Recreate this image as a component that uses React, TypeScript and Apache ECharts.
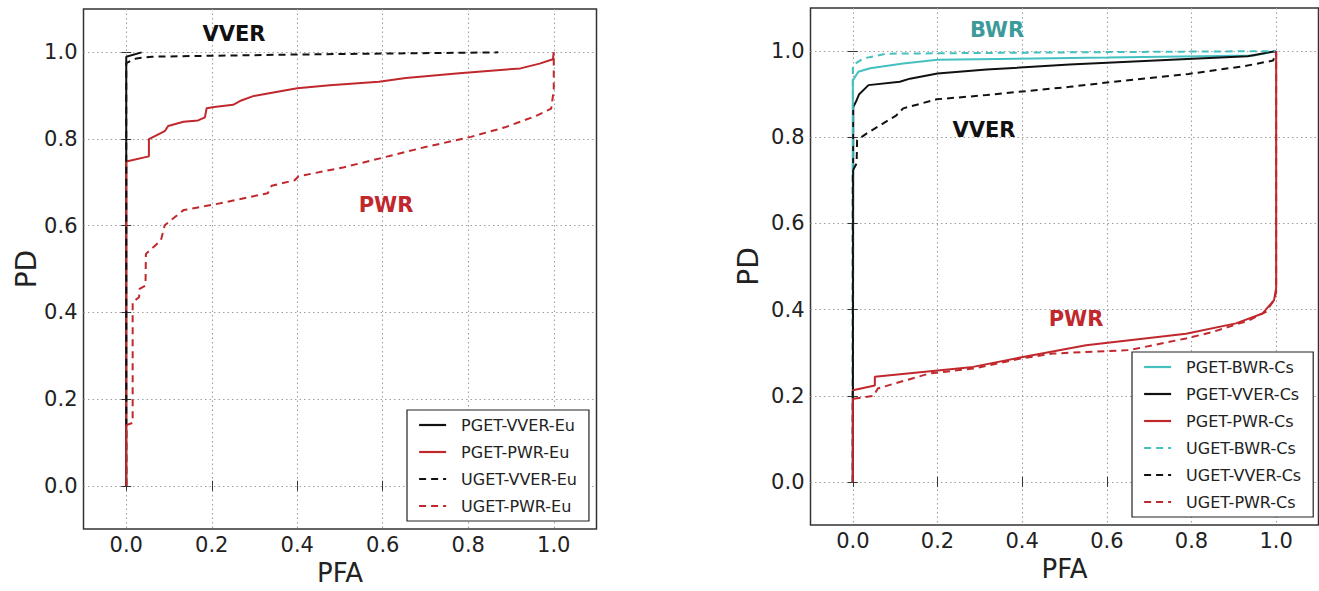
import React, { useEffect, useRef } from 'react';
import * as echarts from 'echarts';

// ---------- data ----------
const tickValues = [0, 0.2, 0.4, 0.6, 0.8, 1.0];

const leftNames = ['PGET-VVER-Eu', 'PGET-PWR-Eu', 'UGET-VVER-Eu', 'UGET-PWR-Eu'];
const rightNames = ['PGET-BWR-Cs', 'PGET-VVER-Cs', 'PGET-PWR-Cs', 'UGET-BWR-Cs', 'UGET-VVER-Cs', 'UGET-PWR-Cs'];

const pgetVverEu = [[0, 0], [0, 0.99], [0.036, 1.0]];
const pgetPwrEu = [
  [0, 0], [0, 0.748], [0.053, 0.76], [0.053, 0.8], [0.09, 0.818], [0.098, 0.83], [0.134, 0.84],
  [0.168, 0.843], [0.184, 0.85], [0.188, 0.871], [0.206, 0.874], [0.25, 0.879], [0.269, 0.889],
  [0.297, 0.899], [0.331, 0.905], [0.4, 0.917], [0.476, 0.924], [0.591, 0.932], [0.654, 0.941],
  [0.779, 0.952], [0.922, 0.963], [0.967, 0.974], [0.998, 0.984], [1.0, 1.0],
];
const ugetVverEu = [[0, 0], [0, 0.975], [0.01, 0.98], [0.024, 0.986], [0.06, 0.99], [0.4, 0.995], [0.87, 1.0]];
const ugetPwrEu = [
  [0, 0], [0, 0.14], [0.015, 0.145], [0.015, 0.424], [0.03, 0.435], [0.031, 0.454], [0.045, 0.462],
  [0.046, 0.535], [0.081, 0.566], [0.09, 0.601], [0.134, 0.636], [0.206, 0.649], [0.331, 0.675],
  [0.34, 0.692], [0.394, 0.705], [0.403, 0.714], [0.51, 0.735], [0.6, 0.757], [0.689, 0.779],
  [0.806, 0.805], [0.886, 0.827], [0.958, 0.853], [0.994, 0.87], [1.0, 0.913], [1.0, 1.0],
];

const pgetBwrCs = [
  [0, 0], [0, 0.932], [0.013, 0.952], [0.041, 0.96], [0.119, 0.971], [0.2, 0.98], [0.6, 0.985],
  [0.95, 0.99], [1, 1],
];
const pgetVverCs = [
  [0, 0], [0.001, 0.87], [0.009, 0.886], [0.015, 0.9], [0.037, 0.921], [0.111, 0.929], [0.135, 0.936],
  [0.2, 0.948], [0.316, 0.957], [0.512, 0.969], [0.803, 0.982], [0.933, 0.988], [1, 1],
];
const pgetPwrCs = [
  [0, 0], [0, 0.213], [0.052, 0.224], [0.052, 0.244], [0.284, 0.267], [0.402, 0.29], [0.551, 0.317],
  [0.787, 0.344], [0.905, 0.368], [0.968, 0.391], [0.995, 0.422], [1, 0.45], [1, 1],
];
const ugetBwrCs = [[0, 0], [0, 0.967], [0.025, 0.983], [0.08, 0.994], [0.5, 0.997], [1, 1]];
const ugetVverCs = [
  [0, 0], [0, 0.723], [0.009, 0.739], [0.01, 0.793], [0.033, 0.809], [0.103, 0.851], [0.119, 0.867],
  [0.198, 0.888], [0.316, 0.898], [0.512, 0.917], [0.6, 0.927], [0.793, 0.947], [0.924, 0.965],
  [0.993, 0.978], [1, 1],
];
const ugetPwrCs = [
  [0, 0], [0, 0.193], [0.049, 0.2], [0.052, 0.205], [0.059, 0.217], [0.182, 0.252], [0.284, 0.263],
  [0.394, 0.286], [0.473, 0.298], [0.653, 0.306], [0.787, 0.333], [0.85, 0.348], [0.936, 0.375],
  [0.976, 0.395], [0.995, 0.422], [1, 0.44], [1, 1],
];

// ---------- styles ----------
const BLACK = '#111111';
const RED = '#c0282d';
const TEAL = '#45c0c0';
const TEAL_TEXT = '#3d9a9b';
const FONT = '"DejaVu Sans", sans-serif';
const DASH = [7, 5];
const GRID_LINE = { color: '#a0a0a0', type: [1.5, 3], width: 1.1 };

function mainXAxis(gridIndex: number) {
  return {
    type: 'value', gridIndex, min: -0.1, max: 1.1, position: 'bottom',
    name: 'PFA', nameLocation: 'middle', nameGap: 29,
    nameTextStyle: { fontSize: 26, fontFamily: FONT, color: '#222' },
    axisLine: { show: false },
    axisTick: { show: true, inside: true, length: 5, customValues: tickValues, lineStyle: { color: '#333' } },
    axisLabel: {
      customValues: tickValues, formatter: (v: number) => v.toFixed(1),
      fontSize: 21, fontFamily: FONT, color: '#222', margin: 5,
    },
    splitLine: { show: true, lineStyle: GRID_LINE },
  };
}
function topXAxis(gridIndex: number) {
  return {
    type: 'value', gridIndex, min: -0.1, max: 1.1, position: 'top',
    axisLine: { show: false },
    axisTick: { show: true, inside: true, length: 5, customValues: tickValues, lineStyle: { color: '#333' } },
    axisLabel: { show: false },
    splitLine: { show: false },
  };
}
function mainYAxis(gridIndex: number, gap: number) {
  return {
    type: 'value', gridIndex, min: -0.1, max: 1.1, position: 'left',
    name: 'PD', nameLocation: 'middle', nameGap: gap,
    nameTextStyle: { fontSize: 28, fontFamily: FONT, color: '#222' },
    axisLine: { show: false },
    axisTick: { show: true, inside: true, length: 5, customValues: tickValues, lineStyle: { color: '#333' } },
    axisLabel: {
      customValues: tickValues, formatter: (v: number) => v.toFixed(1),
      fontSize: 21, fontFamily: FONT, color: '#222', margin: 6,
    },
    splitLine: { show: true, lineStyle: GRID_LINE },
  };
}
function rightYAxis(gridIndex: number) {
  return {
    type: 'value', gridIndex, min: -0.1, max: 1.1, position: 'right',
    axisLine: { show: false },
    axisTick: { show: true, inside: true, length: 5, customValues: tickValues, lineStyle: { color: '#333' } },
    axisLabel: { show: false },
    splitLine: { show: false },
  };
}

function lineSeries(name: string, data: number[][], color: string, dashed: boolean, xi: number, yi: number) {
  return {
    name, type: 'line', data, xAxisIndex: xi, yAxisIndex: yi,
    symbol: 'none', showSymbol: false,
    lineStyle: { color, width: 2, type: dashed ? DASH : 'solid' },
    itemStyle: { color },
    emphasis: { disabled: true },
  };
}

function legendCfg(names: string[], left: number, top: number) {
  return {
    data: names, orient: 'vertical', left, top,
    itemWidth: 27, itemHeight: 16, itemGap: 11,
    padding: [7, 12, 7, 11],
    borderColor: '#222', borderWidth: 1.2, backgroundColor: '#ffffff',
    selectedMode: false,
    itemStyle: { opacity: 0 },
    lineStyle: { width: 2.2 },
    textStyle: { fontSize: 16, fontFamily: FONT, color: '#222', padding: [0, 0, 0, 10] },
  };
}

function annot(text: string, x: number, y: number, color: string) {
  return {
    type: 'text', x, y, z: 100,
    style: { text, fill: color, font: `bold 21px ${FONT}`, align: 'center', verticalAlign: 'middle' },
  };
}

export default function App() {
  const ref = useRef<HTMLDivElement>(null);
  useEffect(() => {
    document.body.style.margin = '0';
    if (!ref.current) return;
    const chart = echarts.init(ref.current, null, { renderer: 'svg' });
    const option = {
      animation: false,
      backgroundColor: '#ffffff',
      grid: [
        { left: 83.5, top: 9, width: 513, height: 522, show: true, borderColor: '#333', borderWidth: 1.5, backgroundColor: 'transparent' },
        { left: 810.5, top: 8, width: 508, height: 517, show: true, borderColor: '#333', borderWidth: 1.5, backgroundColor: 'transparent' },
      ],
      xAxis: [mainXAxis(0), topXAxis(0), mainXAxis(1), topXAxis(1)],
      yAxis: [mainYAxis(0, 38), rightYAxis(0), mainYAxis(1, 48), rightYAxis(1)],
      legend: [legendCfg(leftNames, 407, 410), legendCfg(rightNames, 1132, 352)],
      series: [
        lineSeries(leftNames[0], pgetVverEu, BLACK, false, 0, 0),
        lineSeries(leftNames[1], pgetPwrEu, RED, false, 0, 0),
        lineSeries(leftNames[2], ugetVverEu, BLACK, true, 0, 0),
        lineSeries(leftNames[3], ugetPwrEu, RED, true, 0, 0),
        lineSeries(rightNames[0], pgetBwrCs, TEAL, false, 2, 2),
        lineSeries(rightNames[1], pgetVverCs, BLACK, false, 2, 2),
        lineSeries(rightNames[2], pgetPwrCs, RED, false, 2, 2),
        lineSeries(rightNames[3], ugetBwrCs, TEAL, true, 2, 2),
        lineSeries(rightNames[4], ugetVverCs, BLACK, true, 2, 2),
        lineSeries(rightNames[5], ugetPwrCs, RED, true, 2, 2),
      ],
      graphic: [
        annot('VVER', 234, 34, BLACK),
        annot('PWR', 386, 205, RED),
        annot('BWR', 997, 30, TEAL_TEXT),
        annot('VVER', 984, 130, BLACK),
        annot('PWR', 1076, 319, RED),
      ],
    };
    chart.setOption(option as any);
    return () => chart.dispose();
  }, []);
  return <div ref={ref} style={{ width: 1319, height: 591, overflow: 'hidden' }} />;
}
